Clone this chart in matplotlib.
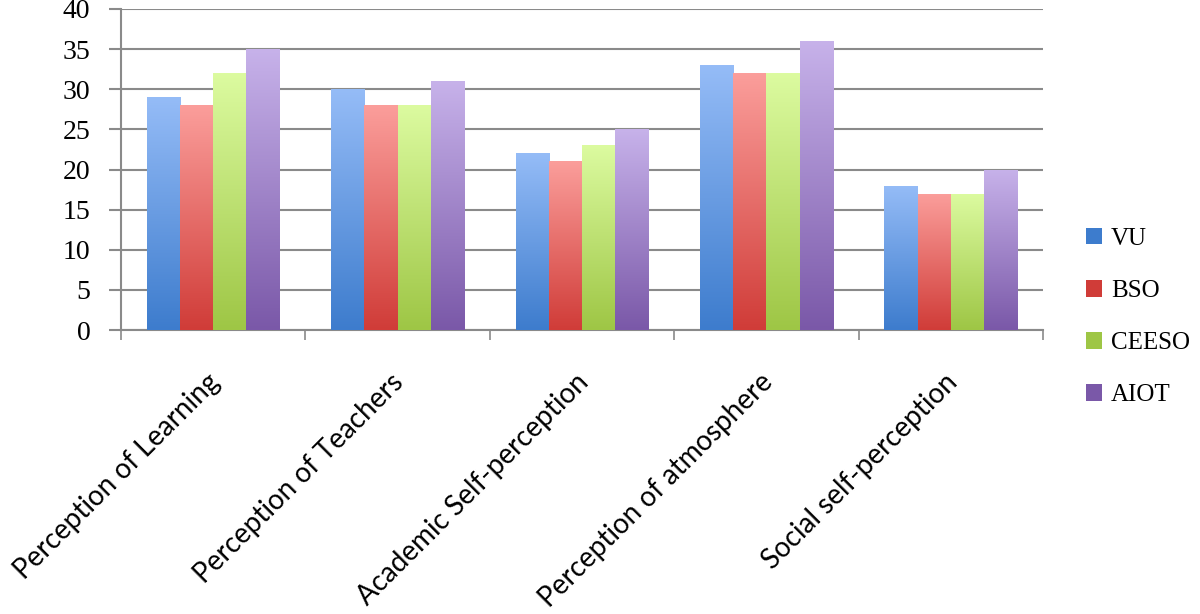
import matplotlib.pyplot as plt
import numpy as np
from matplotlib.colors import LinearSegmentedColormap
from matplotlib.patches import Patch

categories = ["Perception of Learning", "Perception of Teachers", "Academic Self-perception",
              "Perception of atmosphere", "Social self-perception"]
series = ["VU", "BSO", "CEESO", "AIOT"]
vu = [29, 30, 22, 33, 18]
bso = [28, 28, 21, 32, 17]
ceeso = [32, 28, 23, 32, 17]
aiot = [35, 31, 25, 36, 20]
yticks = [0, 5, 10, 15, 20, 25, 30, 35, 40]

# top colour, bottom colour for each series
grads = [("#95bcf7", "#3d7ccd"), ("#fb9e9b", "#d03c38"),
         ("#dcfba0", "#9ec645"), ("#c7b2ea", "#7a58a8")]

fig = plt.figure(figsize=(12, 6.14), dpi=100)
ax = fig.add_axes([121/1200, 1-330/614, 922/1200, 321/614])

x = np.arange(len(categories))
bw = 0.18
for i, vals in enumerate([vu, bso, ceeso, aiot]):
	cmap = LinearSegmentedColormap.from_list("g%d" % i, [grads[i][1], grads[i][0]])
	offs = (i - 1.5) * bw
	bars = ax.bar(x + offs, vals, bw, color="none", edgecolor="none", zorder=3)
	for b in bars:
		h = b.get_height()
		grad = np.linspace(0, 1, 256).reshape(-1, 1)
		im = ax.imshow(grad, cmap=cmap, origin="lower", aspect="auto",
		               extent=[b.get_x(), b.get_x() + b.get_width(), 0, h],
		               vmin=0, vmax=1, zorder=3)
		im.set_clip_path(b)

ax.set_xlim(-0.5, len(categories) - 0.5)
ax.set_ylim(0, 40)
ax.set_yticks(yticks)
ax.set_yticklabels([str(t) for t in yticks], fontsize=20, family="Liberation Serif")
ax.yaxis.grid(True, color="#8a8a8a", linewidth=1.5, zorder=0)
ax.set_axisbelow(True)
ax.tick_params(axis="y", length=9, width=1.5, color="#8a8a8a", pad=13)

ax.set_xticks(np.arange(len(categories) + 1) - 0.5)
ax.set_xticklabels([])
ax.tick_params(axis="x", length=7, width=1.2, color="#8a8a8a")
for i, c in enumerate(categories):
	ax.annotate(c, xy=(i, 0), xycoords=("data", "axes fraction"),
	            xytext=(-5, -28), textcoords="offset points",
	            rotation=45, rotation_mode="anchor", ha="right", va="top",
	            fontsize=20, family="Lato")

for s in ["top", "right"]:
	ax.spines[s].set_visible(False)
ax.spines["left"].set_color("#8a8a8a")
ax.spines["left"].set_linewidth(1.5)
ax.spines["bottom"].set_color("#8a8a8a")
ax.spines["bottom"].set_linewidth(1.5)

handles = [Patch(facecolor=grads[i][1], edgecolor="none") for i in range(4)]
fig.legend(handles, series, loc="center left", bbox_to_anchor=(1086/1200, 1-317/614),
           frameon=False, prop={"family": "Liberation Serif", "size": 18},
           labelspacing=1.2, handlelength=0.65, handleheight=0.65, handletextpad=0.35,
           borderpad=0.0, borderaxespad=0.0)

fig.savefig("out.png", dpi=100)
